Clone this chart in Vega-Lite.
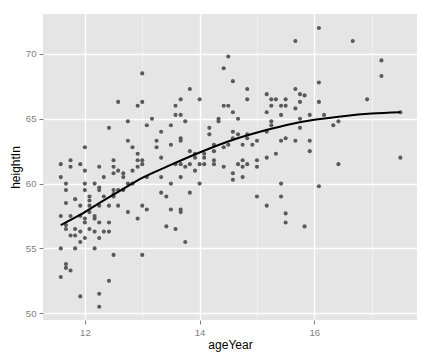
{
  "$schema": "https://vega.github.io/schema/vega-lite/v6.json",
  "width": 374,
  "height": 306,
  "autosize": {"type": "none"},
  "padding": {"left": 43, "top": 14, "right": 15, "bottom": 40},
  "background": "white",
  "config": {
    "view": {"fill": "#E5E5E5", "stroke": null},
    "axis": {
      "domain": false,
      "tickColor": "#7F7F7F",
      "tickSize": 4,
      "tickWidth": 1,
      "labelColor": "#7F7F7F",
      "labelFont": "Liberation Sans",
      "labelFontSize": 9.6,
      "labelPadding": 3,
      "titleFont": "Liberation Sans",
      "titleFontSize": 12,
      "titleFontWeight": "normal",
      "titleColor": "black"
    }
  },
  "layer": [
    {
      "data": {"values": [
        {"ageYear": 13.00, "heightIn": 68.5}, {"ageYear": 12.58, "heightIn": 66.3}, {"ageYear": 12.92, "heightIn": 66.0},
        {"ageYear": 13.00, "heightIn": 66.3}, {"ageYear": 13.17, "heightIn": 65.0}, {"ageYear": 12.75, "heightIn": 64.8},
        {"ageYear": 13.08, "heightIn": 64.5}, {"ageYear": 12.42, "heightIn": 64.3}, {"ageYear": 13.33, "heightIn": 64.0},
        {"ageYear": 12.75, "heightIn": 63.3}, {"ageYear": 13.25, "heightIn": 63.3}, {"ageYear": 12.00, "heightIn": 62.8},
        {"ageYear": 12.83, "heightIn": 62.8}, {"ageYear": 13.25, "heightIn": 62.8}, {"ageYear": 12.92, "heightIn": 62.3},
        {"ageYear": 13.33, "heightIn": 62.0}, {"ageYear": 11.58, "heightIn": 61.5}, {"ageYear": 11.75, "heightIn": 61.8},
        {"ageYear": 11.92, "heightIn": 61.5}, {"ageYear": 11.75, "heightIn": 61.3}, {"ageYear": 12.25, "heightIn": 61.3},
        {"ageYear": 12.50, "heightIn": 61.8}, {"ageYear": 12.50, "heightIn": 61.3}, {"ageYear": 12.92, "heightIn": 61.8},
        {"ageYear": 13.00, "heightIn": 61.8}, {"ageYear": 12.92, "heightIn": 61.3}, {"ageYear": 13.00, "heightIn": 61.5},
        {"ageYear": 12.00, "heightIn": 61.0}, {"ageYear": 12.33, "heightIn": 60.5}, {"ageYear": 12.50, "heightIn": 60.8},
        {"ageYear": 12.58, "heightIn": 61.0}, {"ageYear": 12.67, "heightIn": 60.8}, {"ageYear": 12.67, "heightIn": 60.5},
        {"ageYear": 12.83, "heightIn": 61.0}, {"ageYear": 13.08, "heightIn": 60.5}, {"ageYear": 13.33, "heightIn": 60.5},
        {"ageYear": 13.67, "heightIn": 60.5}, {"ageYear": 13.58, "heightIn": 61.5}, {"ageYear": 13.75, "heightIn": 61.3},
        {"ageYear": 13.92, "heightIn": 61.0},
        {"ageYear": 14.50, "heightIn": 69.8}, {"ageYear": 14.42, "heightIn": 68.9}, {"ageYear": 14.58, "heightIn": 67.9},
        {"ageYear": 13.83, "heightIn": 67.3}, {"ageYear": 14.83, "heightIn": 67.3}, {"ageYear": 13.67, "heightIn": 66.5},
        {"ageYear": 14.00, "heightIn": 66.5}, {"ageYear": 14.83, "heightIn": 66.5}, {"ageYear": 15.17, "heightIn": 66.9},
        {"ageYear": 15.25, "heightIn": 66.5}, {"ageYear": 15.33, "heightIn": 66.5}, {"ageYear": 15.50, "heightIn": 66.5},
        {"ageYear": 13.58, "heightIn": 66.0}, {"ageYear": 14.42, "heightIn": 66.0}, {"ageYear": 14.50, "heightIn": 66.0},
        {"ageYear": 15.25, "heightIn": 66.0}, {"ageYear": 15.42, "heightIn": 66.0}, {"ageYear": 15.50, "heightIn": 66.0},
        {"ageYear": 14.58, "heightIn": 65.5}, {"ageYear": 15.17, "heightIn": 65.5}, {"ageYear": 13.58, "heightIn": 65.3},
        {"ageYear": 13.67, "heightIn": 65.3}, {"ageYear": 15.42, "heightIn": 65.3}, {"ageYear": 14.33, "heightIn": 65.0},
        {"ageYear": 14.33, "heightIn": 64.8}, {"ageYear": 14.67, "heightIn": 65.0}, {"ageYear": 13.75, "heightIn": 64.8},
        {"ageYear": 15.25, "heightIn": 64.8}, {"ageYear": 15.25, "heightIn": 64.5}, {"ageYear": 15.17, "heightIn": 64.0},
        {"ageYear": 13.50, "heightIn": 64.5}, {"ageYear": 14.17, "heightIn": 64.3}, {"ageYear": 14.17, "heightIn": 63.8},
        {"ageYear": 14.58, "heightIn": 64.0}, {"ageYear": 14.67, "heightIn": 63.8}, {"ageYear": 14.83, "heightIn": 63.8},
        {"ageYear": 13.67, "heightIn": 63.5}, {"ageYear": 13.67, "heightIn": 63.3}, {"ageYear": 14.58, "heightIn": 63.5},
        {"ageYear": 14.83, "heightIn": 63.5}, {"ageYear": 15.00, "heightIn": 63.3}, {"ageYear": 15.42, "heightIn": 63.3},
        {"ageYear": 15.50, "heightIn": 63.5}, {"ageYear": 13.50, "heightIn": 63.0}, {"ageYear": 14.25, "heightIn": 63.0},
        {"ageYear": 14.42, "heightIn": 62.8}, {"ageYear": 14.50, "heightIn": 63.0}, {"ageYear": 14.75, "heightIn": 63.0},
        {"ageYear": 14.92, "heightIn": 63.0}, {"ageYear": 14.25, "heightIn": 62.5}, {"ageYear": 13.83, "heightIn": 62.5},
        {"ageYear": 13.92, "heightIn": 62.3}, {"ageYear": 13.92, "heightIn": 62.0}, {"ageYear": 14.08, "heightIn": 62.3},
        {"ageYear": 14.08, "heightIn": 62.0}, {"ageYear": 15.17, "heightIn": 62.0}, {"ageYear": 15.33, "heightIn": 62.3},
        {"ageYear": 13.67, "heightIn": 61.5}, {"ageYear": 13.83, "heightIn": 61.5}, {"ageYear": 14.00, "heightIn": 61.5},
        {"ageYear": 14.08, "heightIn": 61.5}, {"ageYear": 14.25, "heightIn": 61.8}, {"ageYear": 14.25, "heightIn": 61.5},
        {"ageYear": 14.42, "heightIn": 61.3}, {"ageYear": 15.00, "heightIn": 61.8}, {"ageYear": 15.00, "heightIn": 61.3},
        {"ageYear": 14.67, "heightIn": 61.5}, {"ageYear": 14.75, "heightIn": 61.3}, {"ageYear": 14.75, "heightIn": 61.8},
        {"ageYear": 14.83, "heightIn": 61.5},
        {"ageYear": 16.08, "heightIn": 72.0}, {"ageYear": 15.67, "heightIn": 71.0}, {"ageYear": 16.67, "heightIn": 71.0},
        {"ageYear": 17.17, "heightIn": 69.5}, {"ageYear": 17.17, "heightIn": 68.3}, {"ageYear": 16.08, "heightIn": 67.8},
        {"ageYear": 15.67, "heightIn": 67.3}, {"ageYear": 15.75, "heightIn": 66.9}, {"ageYear": 15.83, "heightIn": 66.8},
        {"ageYear": 15.75, "heightIn": 66.3}, {"ageYear": 16.08, "heightIn": 66.3}, {"ageYear": 16.92, "heightIn": 66.5},
        {"ageYear": 15.67, "heightIn": 65.8}, {"ageYear": 15.92, "heightIn": 65.3}, {"ageYear": 16.17, "heightIn": 65.3},
        {"ageYear": 15.75, "heightIn": 65.0}, {"ageYear": 15.75, "heightIn": 64.3}, {"ageYear": 16.42, "heightIn": 64.8},
        {"ageYear": 16.33, "heightIn": 64.5}, {"ageYear": 17.50, "heightIn": 65.5}, {"ageYear": 15.67, "heightIn": 63.3},
        {"ageYear": 15.92, "heightIn": 63.3}, {"ageYear": 15.92, "heightIn": 62.5}, {"ageYear": 16.42, "heightIn": 61.5},
        {"ageYear": 17.50, "heightIn": 62.0}, {"ageYear": 16.08, "heightIn": 59.8}, {"ageYear": 15.83, "heightIn": 56.7},
        {"ageYear": 14.58, "heightIn": 60.8}, {"ageYear": 14.75, "heightIn": 60.5}, {"ageYear": 14.58, "heightIn": 60.3},
        {"ageYear": 13.50, "heightIn": 60.0}, {"ageYear": 14.00, "heightIn": 60.0}, {"ageYear": 15.42, "heightIn": 60.0},
        {"ageYear": 13.83, "heightIn": 59.3}, {"ageYear": 15.00, "heightIn": 59.0}, {"ageYear": 15.42, "heightIn": 59.0},
        {"ageYear": 15.17, "heightIn": 58.3}, {"ageYear": 13.50, "heightIn": 58.0}, {"ageYear": 13.67, "heightIn": 58.0},
        {"ageYear": 13.67, "heightIn": 57.8}, {"ageYear": 15.50, "heightIn": 57.7}, {"ageYear": 15.50, "heightIn": 57.0},
        {"ageYear": 13.58, "heightIn": 56.5}, {"ageYear": 13.75, "heightIn": 55.5},
        {"ageYear": 11.58, "heightIn": 60.5}, {"ageYear": 11.67, "heightIn": 60.0}, {"ageYear": 11.67, "heightIn": 59.5},
        {"ageYear": 12.00, "heightIn": 60.0}, {"ageYear": 12.00, "heightIn": 59.5}, {"ageYear": 12.17, "heightIn": 60.0},
        {"ageYear": 12.25, "heightIn": 59.7}, {"ageYear": 12.25, "heightIn": 59.5}, {"ageYear": 12.50, "heightIn": 59.5},
        {"ageYear": 12.50, "heightIn": 59.2}, {"ageYear": 12.58, "heightIn": 59.5}, {"ageYear": 12.67, "heightIn": 59.5},
        {"ageYear": 12.75, "heightIn": 60.0}, {"ageYear": 12.83, "heightIn": 60.0}, {"ageYear": 12.33, "heightIn": 59.0},
        {"ageYear": 12.50, "heightIn": 59.0}, {"ageYear": 12.08, "heightIn": 59.0}, {"ageYear": 12.08, "heightIn": 58.7},
        {"ageYear": 11.83, "heightIn": 58.8}, {"ageYear": 11.67, "heightIn": 58.5}, {"ageYear": 11.92, "heightIn": 58.3},
        {"ageYear": 12.08, "heightIn": 58.3}, {"ageYear": 12.25, "heightIn": 58.3}, {"ageYear": 12.42, "heightIn": 58.3},
        {"ageYear": 12.58, "heightIn": 58.3}, {"ageYear": 12.75, "heightIn": 57.8}, {"ageYear": 13.00, "heightIn": 58.3},
        {"ageYear": 13.08, "heightIn": 58.0}, {"ageYear": 13.33, "heightIn": 59.3}, {"ageYear": 13.42, "heightIn": 59.0},
        {"ageYear": 12.92, "heightIn": 57.3}, {"ageYear": 13.42, "heightIn": 56.7}, {"ageYear": 11.58, "heightIn": 57.5},
        {"ageYear": 11.67, "heightIn": 56.8}, {"ageYear": 11.67, "heightIn": 56.5}, {"ageYear": 11.75, "heightIn": 57.5},
        {"ageYear": 11.92, "heightIn": 57.5}, {"ageYear": 12.00, "heightIn": 57.3}, {"ageYear": 12.00, "heightIn": 57.0},
        {"ageYear": 12.08, "heightIn": 57.8}, {"ageYear": 12.17, "heightIn": 57.5}, {"ageYear": 12.17, "heightIn": 57.3},
        {"ageYear": 12.25, "heightIn": 57.0}, {"ageYear": 12.42, "heightIn": 57.0}, {"ageYear": 11.83, "heightIn": 56.5},
        {"ageYear": 11.92, "heightIn": 56.3}, {"ageYear": 12.08, "heightIn": 56.5}, {"ageYear": 12.17, "heightIn": 56.3},
        {"ageYear": 12.33, "heightIn": 56.3}, {"ageYear": 12.42, "heightIn": 56.3}, {"ageYear": 11.75, "heightIn": 56.0},
        {"ageYear": 11.83, "heightIn": 56.0}, {"ageYear": 11.92, "heightIn": 55.5}, {"ageYear": 12.00, "heightIn": 55.8},
        {"ageYear": 12.25, "heightIn": 55.8}, {"ageYear": 11.58, "heightIn": 55.0}, {"ageYear": 11.83, "heightIn": 55.0},
        {"ageYear": 12.17, "heightIn": 55.0}, {"ageYear": 12.50, "heightIn": 54.5}, {"ageYear": 13.00, "heightIn": 54.5},
        {"ageYear": 11.67, "heightIn": 53.8}, {"ageYear": 11.67, "heightIn": 53.5}, {"ageYear": 11.75, "heightIn": 53.3},
        {"ageYear": 11.58, "heightIn": 52.8}, {"ageYear": 12.42, "heightIn": 52.5}, {"ageYear": 11.92, "heightIn": 51.3},
        {"ageYear": 12.25, "heightIn": 51.5}, {"ageYear": 12.25, "heightIn": 50.5}
      ]},
      "mark": {"type": "circle", "size": 17, "color": "#5A5A5A", "opacity": 1},
      "encoding": {
        "x": {
          "field": "ageYear", "type": "quantitative",
          "scale": {"domain": [11.27, 17.79], "nice": false, "zero": false},
          "axis": {
            "title": "ageYear",
            "values": [12, 13, 14, 15, 16, 17],
            "format": "d",
            "labelExpr": "datum.value % 2 == 0 ? datum.label : ''",
            "tickOpacity": {"condition": {"test": "datum.value % 2 == 0", "value": 1}, "value": 0},
            "gridColor": {"condition": {"test": "datum.value % 2 == 0", "value": "#FFFFFF"}, "value": "#F2F2F2"},
            "gridWidth": {"condition": {"test": "datum.value % 2 == 0", "value": 1.3}, "value": 0.8},
            "gridOpacity": 1,
            "titlePadding": 3
          }
        },
        "y": {
          "field": "heightIn", "type": "quantitative",
          "scale": {"domain": [49.48, 73.08], "nice": false, "zero": false},
          "axis": {
            "title": "heightIn",
            "values": [50, 52.5, 55, 57.5, 60, 62.5, 65, 67.5, 70, 72.5],
            "labelExpr": "datum.value % 5 == 0 ? datum.label : ''",
            "tickOpacity": {"condition": {"test": "datum.value % 5 == 0", "value": 1}, "value": 0},
            "gridColor": {"condition": {"test": "datum.value % 5 == 0", "value": "#FFFFFF"}, "value": "#F2F2F2"},
            "gridWidth": {"condition": {"test": "datum.value % 5 == 0", "value": 1.3}, "value": 0.8},
            "gridOpacity": 1,
            "titlePadding": 3
          }
        }
      }
    },
    {
      "data": {"values": [
        {"ageYear": 11.58, "heightIn": 56.8}, {"ageYear": 11.92, "heightIn": 57.6}, {"ageYear": 12.25, "heightIn": 58.5},
        {"ageYear": 12.67, "heightIn": 59.6}, {"ageYear": 13.0, "heightIn": 60.45}, {"ageYear": 13.4, "heightIn": 61.25},
        {"ageYear": 14.0, "heightIn": 62.4}, {"ageYear": 14.6, "heightIn": 63.4}, {"ageYear": 15.1, "heightIn": 64.05},
        {"ageYear": 15.6, "heightIn": 64.6}, {"ageYear": 16.0, "heightIn": 64.92}, {"ageYear": 16.5, "heightIn": 65.2},
        {"ageYear": 17.0, "heightIn": 65.4}, {"ageYear": 17.5, "heightIn": 65.5}
      ]},
      "mark": {"type": "line", "color": "black", "strokeWidth": 2, "interpolate": "monotone"},
      "encoding": {
        "x": {"field": "ageYear", "type": "quantitative"},
        "y": {"field": "heightIn", "type": "quantitative"}
      }
    }
  ]
}
